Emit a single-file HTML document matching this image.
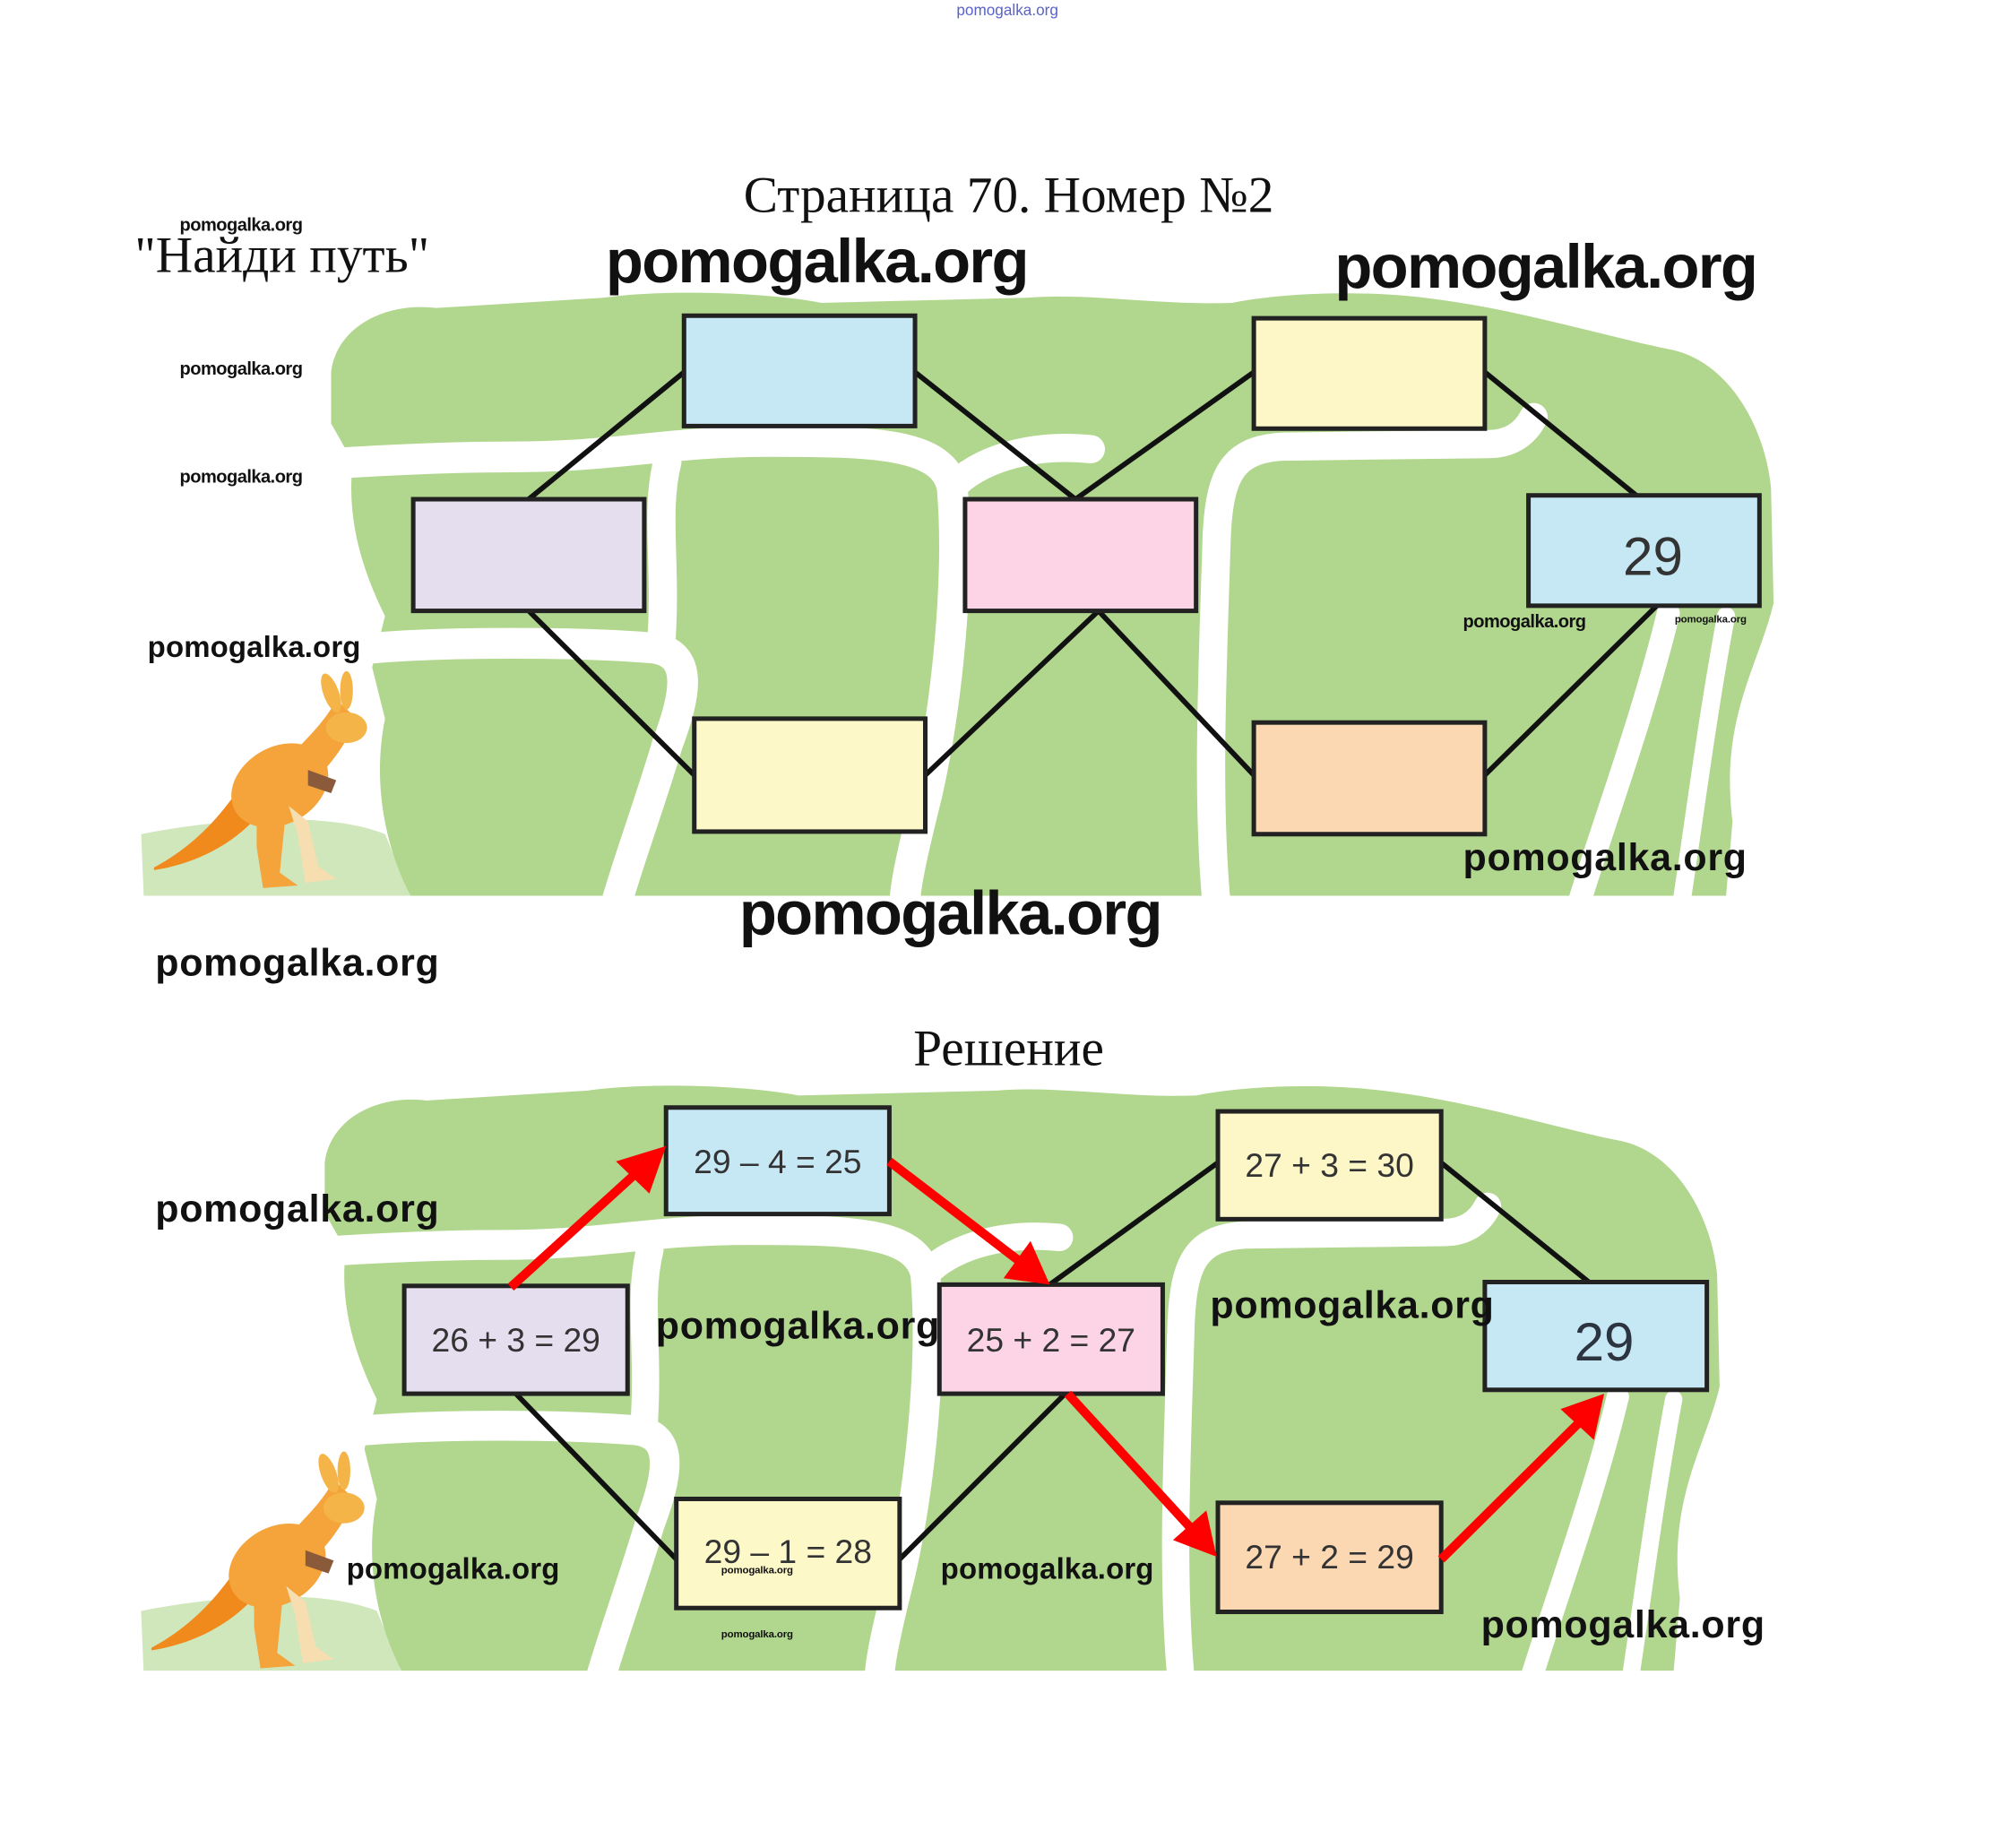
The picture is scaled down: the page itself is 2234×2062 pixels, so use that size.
<!DOCTYPE html>
<html><head><meta charset="utf-8"><style>
html,body{margin:0;padding:0;background:#fff;}
svg{display:block}
.wm{font-family:"Liberation Sans",sans-serif;font-weight:bold;fill:#111}
.bt{font-family:"Liberation Sans",sans-serif;fill:#333;text-anchor:middle}
.ti{font-family:"Liberation Serif",serif;fill:#111}
</style></head><body>
<svg width="2234" height="2062" viewBox="0 0 1560 1440" preserveAspectRatio="none" xmlns="http://www.w3.org/2000/svg">
<defs>
<g id="map">
<path fill="#b1d68e" d="M258,290 C262,255 300,235 340,240 L470,232 C520,225 600,228 640,236 L800,232 C850,228 900,238 960,236 C1000,228 1060,226 1110,232 C1180,240 1250,262 1300,272 C1345,280 1375,330 1380,380 L1382,470 C1370,520 1340,560 1350,640 L1345,698 L320,698 C300,660 290,610 300,560 L290,520 L300,480 C280,440 270,400 275,360 L258,330 Z"/>
<path fill="#b1d68e" d="M110,650 C160,640 250,630 300,650 L320,698 L112,698 Z" opacity="0.6"/>
<g fill="none" stroke="#fff" stroke-linecap="round">
<path stroke-width="24" d="M100,372 C200,366 300,356 400,356 C480,356 520,344 600,344 C680,344 735,345 742,380 C748,450 738,550 722,620 C712,660 705,690 705,705"/>
<path stroke-width="22" d="M742,380 C760,360 800,345 850,350"/>
<path stroke-width="22" d="M948,705 C940,620 945,520 948,420 C950,370 960,350 1000,348 L1160,346 C1180,346 1190,335 1195,325"/>
<path stroke-width="24" d="M290,505 C350,500 450,500 510,505 C540,510 535,540 520,580 C505,630 490,670 480,705"/>
<path stroke-width="18" d="M1300,478 C1280,560 1250,640 1230,705"/>
<path stroke-width="14" d="M1345,480 C1330,560 1320,640 1310,705"/>
<path stroke-width="22" d="M520,360 C510,400 520,440 515,505"/>
</g>
</g>
<g id="roo">
<path fill="#f08a1c" d="M120,676 C150,660 175,635 195,600 L212,620 C195,650 160,672 120,678 Z"/>
<ellipse cx="218" cy="612" rx="40" ry="30" fill="#f4a43a" transform="rotate(-30 218 612)"/>
<path fill="#f4a43a" d="M225,590 C240,575 255,560 262,545 L278,560 C270,580 255,600 240,612 Z"/>
<ellipse cx="270" cy="567" rx="16" ry="12" fill="#f4b448"/>
<ellipse cx="258" cy="540" rx="6" ry="16" fill="#f4b448" transform="rotate(-20 258 540)"/>
<ellipse cx="270" cy="538" rx="5" ry="15" fill="#f4b448"/>
<path fill="#f6deb0" d="M225,628 L240,640 L248,675 L262,685 L238,688 L232,650 Z"/>
<path fill="#f4a43a" d="M200,630 L222,640 L218,680 L232,690 L205,692 L200,660 Z"/>
<path fill="#8a5a3a" d="M240,600 L262,608 L258,618 L240,612 Z"/>
</g>
</defs>
<rect width="1560" height="1440" fill="#fff"/>
<text x="785" y="12" font-family="Liberation Sans,sans-serif" font-size="12" fill="#5a63c8" text-anchor="middle">pomogalka.org</text>
<text class="ti" x="786" y="165" font-size="40" text-anchor="middle">Страница 70. Номер №2</text>
<text class="ti" x="105" y="212" font-size="40">"Найди путь"</text>

<use href="#map"/>
<g stroke="#111" stroke-width="4" fill="none">
<line x1="412" y1="389" x2="533" y2="290"/><line x1="713" y1="290" x2="838" y2="389"/>
<line x1="838" y1="389" x2="977" y2="290"/><line x1="1157" y1="290" x2="1275" y2="386"/>
<line x1="412" y1="476" x2="541" y2="604"/><line x1="721" y1="604" x2="856" y2="476"/>
<line x1="856" y1="476" x2="977" y2="604"/><line x1="1157" y1="604" x2="1291" y2="472"/>
</g>
<g stroke="#222" stroke-width="3.5">
<rect x="533" y="246" width="180" height="86" fill="#c6e7f4"/>
<rect x="322" y="389" width="180" height="87" fill="#e5deef"/>
<rect x="977" y="248" width="180" height="86" fill="#fdf6c6"/>
<rect x="752" y="389" width="180" height="87" fill="#fcd4e5"/>
<rect x="1191" y="386" width="180" height="86" fill="#c6e7f4"/>
<rect x="541" y="560" width="180" height="88" fill="#fdf8c8"/>
<rect x="977" y="563" width="180" height="87" fill="#fbd7b2"/>
</g>
<text class="bt" x="1288" y="448" font-size="42" fill="#2c3440">29</text>
<use href="#roo"/>

<text class="ti" x="786" y="830" font-size="40" text-anchor="middle">Решение</text>
<use href="#map" transform="translate(108,843) scale(0.967,0.97) translate(-108,-225)"/>
<g stroke="#111" stroke-width="4">
<line x1="818" y1="1001" x2="949" y2="906"/><line x1="1123" y1="906" x2="1238" y2="999"/>
<line x1="402" y1="1086" x2="527" y2="1215"/><line x1="701" y1="1215" x2="830" y2="1086"/>
</g>
<g stroke="#222" stroke-width="3.5">
<rect x="519" y="863" width="174" height="83" fill="#c6e7f4"/>
<rect x="315" y="1002" width="174" height="84" fill="#e5deef"/>
<rect x="732" y="1001" width="174" height="85" fill="#fcd4e5"/>
<rect x="949" y="866" width="174" height="84" fill="#fdf6c6"/>
<rect x="1157" y="999" width="173" height="84" fill="#c6e7f4"/>
<rect x="527" y="1168" width="174" height="85" fill="#fdf8c8"/>
<rect x="949" y="1171" width="174" height="85" fill="#fbd7b2"/>
</g>
<g class="bt" font-size="26">
<text x="606" y="914">29 – 4 = 25</text>
<text x="402" y="1053">26 + 3 = 29</text>
<text x="819" y="1053">25 + 2 = 27</text>
<text x="1036" y="917">27 + 3 = 30</text>
<text x="614" y="1218">29 – 1 = 28</text>
<text x="1036" y="1222">27 + 2 = 29</text>
<text x="1250" y="1060" font-size="42" fill="#2c3440">29</text>
</g>
<g stroke="#f00" stroke-width="7" fill="#f00">
<line x1="398" y1="1003" x2="498" y2="912"/><polygon stroke="none" points="519,893 506,930 480,905"/>
<line x1="693" y1="905" x2="796" y2="984"/><polygon stroke="none" points="818,1001 782,996 803,967"/>
<line x1="832" y1="1086" x2="930" y2="1193"/><polygon stroke="none" points="948,1213 914,1200 940,1177"/>
<line x1="1123" y1="1215" x2="1232" y2="1107"/><polygon stroke="none" points="1250,1086 1242,1122 1216,1098"/>
</g>
<use href="#roo" transform="translate(-2,608)"/>

<g class="wm">
<text x="140" y="180" font-size="14" textLength="96">pomogalka.org</text>
<text x="140" y="292" font-size="14" textLength="96">pomogalka.org</text>
<text x="140" y="376" font-size="14" textLength="96">pomogalka.org</text>
<text x="472" y="220" font-size="48" textLength="330">pomogalka.org</text>
<text x="1040" y="224" font-size="48" textLength="330">pomogalka.org</text>
<text x="115" y="512" font-size="23" textLength="166">pomogalka.org</text>
<text x="1140" y="489" font-size="14" textLength="96">pomogalka.org</text>
<text x="1305" y="485" font-size="8" textLength="56">pomogalka.org</text>
<text x="1140" y="678" font-size="30" textLength="221">pomogalka.org</text>
<text x="576" y="728" font-size="48" textLength="330">pomogalka.org</text>
<text x="121" y="760" font-size="30" textLength="221">pomogalka.org</text>
<text x="121" y="952" font-size="30" textLength="221">pomogalka.org</text>
<text x="511" y="1043" font-size="30" textLength="221">pomogalka.org</text>
<text x="943" y="1027" font-size="30" textLength="221">pomogalka.org</text>
<text x="270" y="1230" font-size="23" textLength="166">pomogalka.org</text>
<text x="733" y="1230" font-size="23" textLength="166">pomogalka.org</text>
<text x="1154" y="1276" font-size="30" textLength="221">pomogalka.org</text>
<text x="562" y="1226" font-size="8" textLength="56">pomogalka.org</text>
<text x="562" y="1276" font-size="8" textLength="56">pomogalka.org</text>
</g>
</svg>
</body></html>
